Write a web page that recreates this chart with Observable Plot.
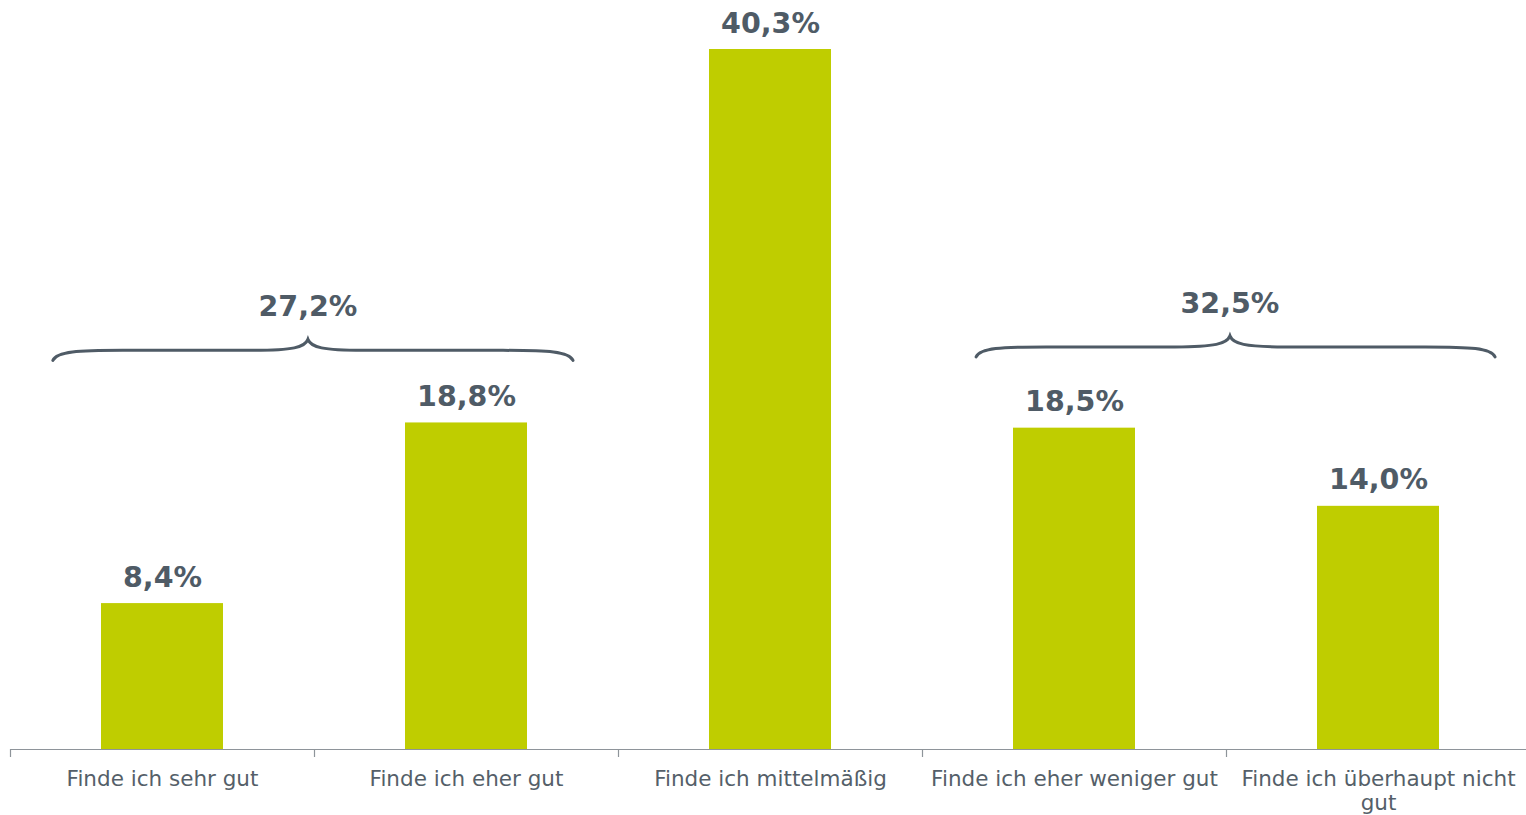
<!DOCTYPE html>
<html>
<head>
<meta charset="utf-8">
<script src="https://cdn.jsdelivr.net/npm/d3@7"></script>
<script src="https://cdn.jsdelivr.net/npm/@observablehq/plot@0.6"></script>
<style>
  html, body { margin: 0; padding: 0; background: #fff; overflow: hidden; }
  #chart { width: 1526px; height: 815px; overflow: hidden; }
  #chart svg { max-width: none !important; }
</style>
</head>
<body>
<div id="chart"></div>
<script>
// ---- data ----
const categories = ["sehr gut", "eher gut", "mittelmäßig", "eher weniger gut", "überhaupt nicht gut"];
const tickLabels = ["Finde ich sehr gut", "Finde ich eher gut", "Finde ich mittelmäßig", "Finde ich eher weniger gut", "Finde ich überhaupt nicht\ngut"];
const values = [8.4, 18.8, 40.3, 18.5, 14.0];
const valueLabels = ["8,4%", "18,8%", "40,3%", "18,5%", "14,0%"];
// braces grouping categories
const braceFrom = ["sehr gut", "eher weniger gut"];
const braceTo = ["eher gut", "überhaupt nicht gut"];
const braceTotals = ["27,2%", "32,5%"];
const braceLevel = [22.95, 23.15];

const table = categories.map((c, i) => ({cat: c, value: values[i], label: valueLabels[i]}));
const tickMap = new Map(categories.map((c, i) => [c, tickLabels[i]]));

const GREEN = "#bfcd00";
const SLATE = "#4f5b66";
const FONT = "DejaVu Sans, Verdana, sans-serif";
// brace geometry (fractions of band step): left end, right end, peak shift
const braceGeom = [[-0.359, 0.352, -0.02], [-0.322, 0.385, 0.013]];

const chart = Plot.plot({
  width: 1530,
  height: 815,
  marginLeft: 10,
  marginRight: 0,
  marginTop: 49,
  marginBottom: 66,
  style: {fontFamily: FONT, color: "#555f69", background: "#fff", maxWidth: "none"},
  x: {domain: categories, paddingInner: 0.6, paddingOuter: 0.3, label: null},
  y: {domain: [0, 40.3], axis: null},
  marks: [
    Plot.barY(table, {x: "cat", y: "value", fill: GREEN}),
    Plot.ruleY([0], {stroke: "#8e949a", strokeWidth: 1.2}),
    Plot.ruleX(categories, {x: d => d, y1: 0, y2: 0, dx: -152, insetBottom: -8, stroke: "#8e949a", strokeWidth: 1.2}),
    Plot.axisX({tickSize: 0, tickPadding: 19, fontSize: 21.5, lineHeight: 1.14, label: null, tickFormat: d => tickMap.get(d), fill: "#555f69"}),
    Plot.text(table, {x: "cat", y: "value", text: "label", lineAnchor: "bottom", dy: -17, fontSize: 28.5, fontWeight: "bold", fill: SLATE})
  ]
});
document.getElementById("chart").appendChild(chart);

// ---- braces drawn from the chart's own scales ----
const sx = chart.scale("x");
const sy = chart.scale("y");
const svg = d3.select(chart);
const step = sx.step;
const bw = sx.bandwidth;
braceFrom.forEach((from, i) => {
  const [gl, gr, gp] = braceGeom[i];
  const cx0 = sx.apply(from) + bw / 2;
  const cx1 = sx.apply(braceTo[i]) + bw / 2;
  const x0 = cx0 + step * gl;
  const x1 = cx1 + step * gr;
  const xm = (cx0 + cx1) / 2 + step * gp;
  const yf = sy.apply(braceLevel[i]);
  const yEnd = yf + 10;
  const yPeak = yf - 11;
  const p = d3.path();
  p.moveTo(x0, yEnd);
  p.bezierCurveTo(x0 + 4, yf + 1, x0 + 25, yf, x0 + 70, yf);
  p.lineTo(xm - 55, yf);
  p.bezierCurveTo(xm - 15, yf, xm - 3, yf - 3, xm, yPeak);
  p.bezierCurveTo(xm + 3, yf - 3, xm + 15, yf, xm + 55, yf);
  p.lineTo(x1 - 70, yf);
  p.bezierCurveTo(x1 - 25, yf, x1 - 4, yf + 1, x1, yEnd);
  svg.append("path")
    .attr("d", p.toString())
    .attr("fill", "none")
    .attr("stroke", SLATE)
    .attr("stroke-width", 3)
    .attr("stroke-linecap", "round");
  svg.append("text")
    .attr("x", xm)
    .attr("y", yf - 34)
    .attr("text-anchor", "middle")
    .attr("font-family", FONT)
    .attr("font-size", 28.5)
    .attr("font-weight", "bold")
    .attr("fill", SLATE)
    .text(braceTotals[i]);
});
</script>
</body>
</html>
